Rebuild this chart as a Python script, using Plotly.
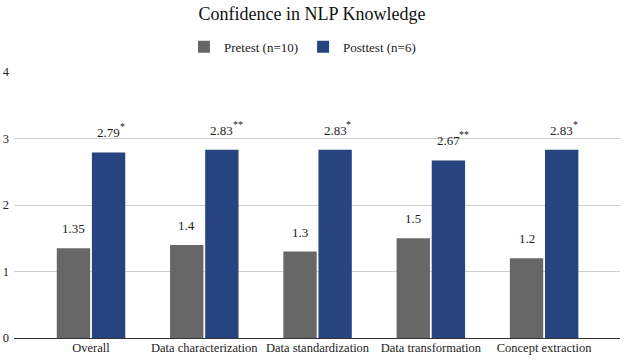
import plotly.graph_objects as go

categories = ["Overall", "Data characterization", "Data standardization",
              "Data transformation", "Concept extraction"]
pretest = [1.35, 1.4, 1.3, 1.5, 1.2]
posttest = [2.79, 2.83, 2.83, 2.67, 2.83]
post_sig = ["*", "**", "*", "**", "*"]
pre_name = "Pretest (n=10)"
post_name = "Posttest (n=6)"

GRAY = "#676767"
BLUE = "#26447f"
FONT = "Liberation Serif"

fig = go.Figure()
fig.add_trace(go.Bar(x=categories, y=pretest, name=pre_name,
                     marker=dict(color=GRAY, line=dict(width=0))))
fig.add_trace(go.Bar(x=categories, y=posttest, name=post_name,
                     marker=dict(color=BLUE, line=dict(width=0))))

off = 0.155
for i, (a, b, s) in enumerate(zip(pretest, posttest, post_sig)):
    fig.add_annotation(x=i - off, y=a, text=f"{a:g}", showarrow=False,
                       yanchor="bottom", yshift=10,
                       font=dict(family=FONT, size=13, color="#222"))
    fig.add_annotation(x=i + off, y=b, text=f"{b:g}", showarrow=False,
                       yanchor="bottom", yshift=10,
                       font=dict(family=FONT, size=13, color="#222"))
    fig.add_annotation(x=i + off, y=b, text=s, showarrow=False,
                       xanchor="left", yanchor="bottom", xshift=9, yshift=18,
                       font=dict(family=FONT, size=10, color="#222"))

fig.update_layout(
    width=624, height=360,
    margin=dict(l=14, r=4, t=72, b=22),
    paper_bgcolor="white", plot_bgcolor="white",
    font=dict(family=FONT, size=12, color="#222"),
    title=dict(text="Confidence in NLP Knowledge", x=0.5, xanchor="center",
               y=0.962, yanchor="middle", font=dict(family=FONT, size=18, color="#111")),
    barmode="group", bargap=0.38, bargroupgap=0.05,
    legend=dict(orientation="h", x=0.476, xanchor="center", y=1.095, yanchor="middle",
                font=dict(family=FONT, size=13), itemwidth=30, traceorder="normal"),
    xaxis=dict(range=[-0.68, 4.67], showgrid=False, ticks="", showline=False,
               tickfont=dict(family=FONT, size=12.5)),
    yaxis=dict(range=[0, 4], dtick=1, showgrid=True, gridcolor="#cfcfcf", gridwidth=1,
               zeroline=True, zerolinecolor="#333", zerolinewidth=1,
               ticks="", tickfont=dict(family=FONT, size=12.5), ticklabelstandoff=4),
)

fig.write_html("out.html")
